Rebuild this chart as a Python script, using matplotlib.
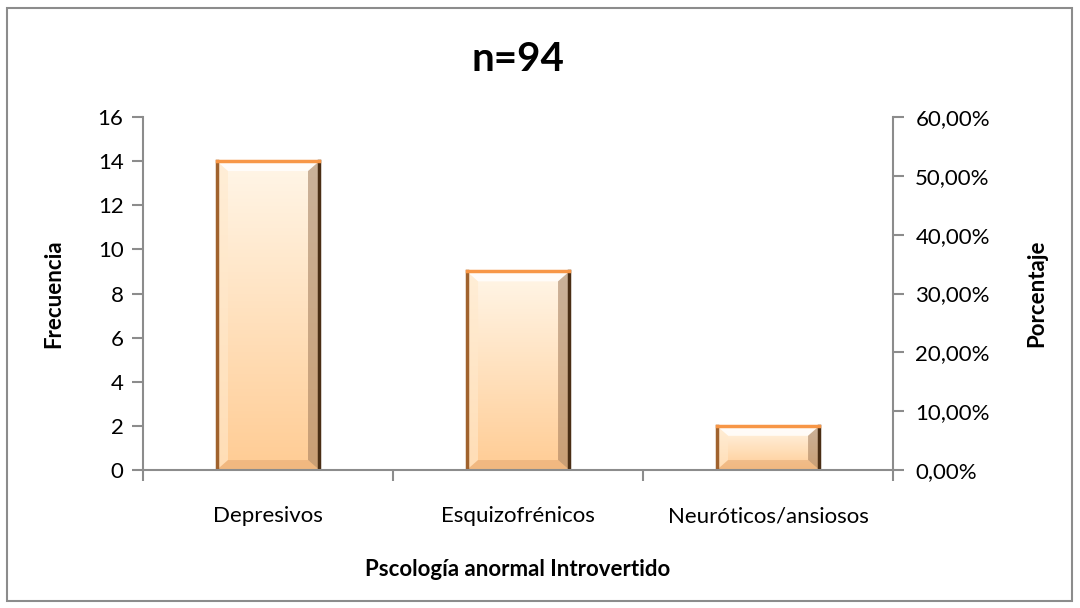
import numpy as np
import matplotlib
matplotlib.use("Agg")
from matplotlib import pyplot as plt
from matplotlib.patches import Rectangle, Polygon
from matplotlib.ticker import FuncFormatter, MultipleLocator

plt.rcParams['font.family'] = ['Lato', 'DejaVu Sans']

categories = ["Depresivos", "Esquizofrénicos", "Neuróticos/ansiosos"]
frequencies = [14, 9, 2]
title = "n=94"
x_label = "Pscología anormal Introvertido"
y_label = "Frecuencia"
y2_label = "Porcentaje"

fig = plt.figure(figsize=(10.8, 6.08), dpi=100)
fig.patches.append(Rectangle((0.0065, 0.012), 0.986, 0.975, transform=fig.transFigure,
                             fill=False, edgecolor="#8c8c8c", linewidth=1.5))

ax = fig.add_axes([0.1324, 0.227, 0.6945, 0.5805])
x = np.arange(len(categories))
bar_w = 0.41
bars = ax.bar(x, frequencies, width=bar_w, color="none", edgecolor="none", zorder=2)

ax.set_xlim(-0.5, len(categories) - 0.5)
ax.set_ylim(0, 16)
ax.yaxis.set_major_locator(MultipleLocator(2))

# gradient fill + bevel for each bar
grad = np.linspace(0, 1, 256).reshape(-1, 1)
top_c = np.array([1.0, 0.965, 0.91])
bot_c = np.array([1.0, 0.80, 0.58])
img = top_c + (bot_c - top_c) * grad
img = img.reshape(256, 1, 3)
bx = 0.045
by = 0.45
for b in bars:
    x0, w, h = b.get_x(), b.get_width(), b.get_height()
    im = ax.imshow(img, extent=[x0, x0 + w, 0, h], aspect="auto", origin="upper", zorder=2)
    im.set_clip_path(b)
    byy = min(by, h * 0.25)
    # top bevel (light)
    ax.add_patch(Polygon([[x0, h], [x0 + w, h], [x0 + w - bx, h - byy], [x0 + bx, h - byy]],
                         facecolor="white", alpha=0.8, edgecolor="none", zorder=3))
    # left bevel
    ax.add_patch(Polygon([[x0, 0], [x0, h], [x0 + bx, h - byy], [x0 + bx, byy]],
                         facecolor="#ffe9cc", alpha=0.6, edgecolor="none", zorder=3))
    # right bevel (dark)
    ax.add_patch(Polygon([[x0 + w, 0], [x0 + w, h], [x0 + w - bx, h - byy], [x0 + w - bx, byy]],
                         facecolor="#a07a5a", alpha=0.55, edgecolor="none", zorder=3))
    # bottom bevel
    ax.add_patch(Polygon([[x0, 0], [x0 + w, 0], [x0 + w - bx, byy], [x0 + bx, byy]],
                         facecolor="#e0a068", alpha=0.45, edgecolor="none", zorder=3))
    ax.plot([x0, x0], [0, h], color="#a0622d", lw=2.5, zorder=4)
    ax.plot([x0 + w, x0 + w], [0, h], color="#4a2e15", lw=2.5, zorder=4)
    ax.plot([x0, x0 + w], [h, h], color="#f79646", lw=2.5, zorder=4)

for s in ["top", "right"]:
    ax.spines[s].set_visible(False)
for s in ["left", "bottom"]:
    ax.spines[s].set_color("#8c8c8c")
    ax.spines[s].set_linewidth(1.5)
    ax.spines[s].set_zorder(5)

ax.set_xticks(np.arange(-0.5, len(categories) + 0.5, 1.0))
ax.set_xticklabels([])
ax.set_xticks(x, minor=True)
ax.set_xticklabels(categories, minor=True, fontsize=16)
ax.tick_params(axis="x", which="major", length=8, width=1.5, color="#8c8c8c", direction="out")
ax.tick_params(axis="x", which="minor", length=0, pad=26)
ax.tick_params(axis="y", length=8, width=1.5, color="#8c8c8c", labelsize=16, pad=6)

ax.set_xlabel(x_label, fontsize=16, fontweight="bold", labelpad=24)
ax.set_ylabel(y_label, fontsize=16, fontweight="bold", labelpad=24)
ax.set_title(title, fontsize=29, fontweight="bold", pad=33)

ax2 = ax.twinx()
ax2.set_ylim(0, 0.6)
ax2.yaxis.set_major_locator(MultipleLocator(0.1))
ax2.yaxis.set_major_formatter(FuncFormatter(lambda v, p: f"{v*100:.2f}%".replace(".", ",")))
for s in ["top", "left", "bottom"]:
    ax2.spines[s].set_visible(False)
ax2.spines["right"].set_color("#8c8c8c")
ax2.spines["right"].set_linewidth(1.5)
ax2.tick_params(axis="y", length=8, width=1.5, color="#8c8c8c", labelsize=16, pad=8)
ax2.set_ylabel(y2_label, fontsize=16, fontweight="bold", labelpad=26)

fig.savefig("out.png", dpi=100)
